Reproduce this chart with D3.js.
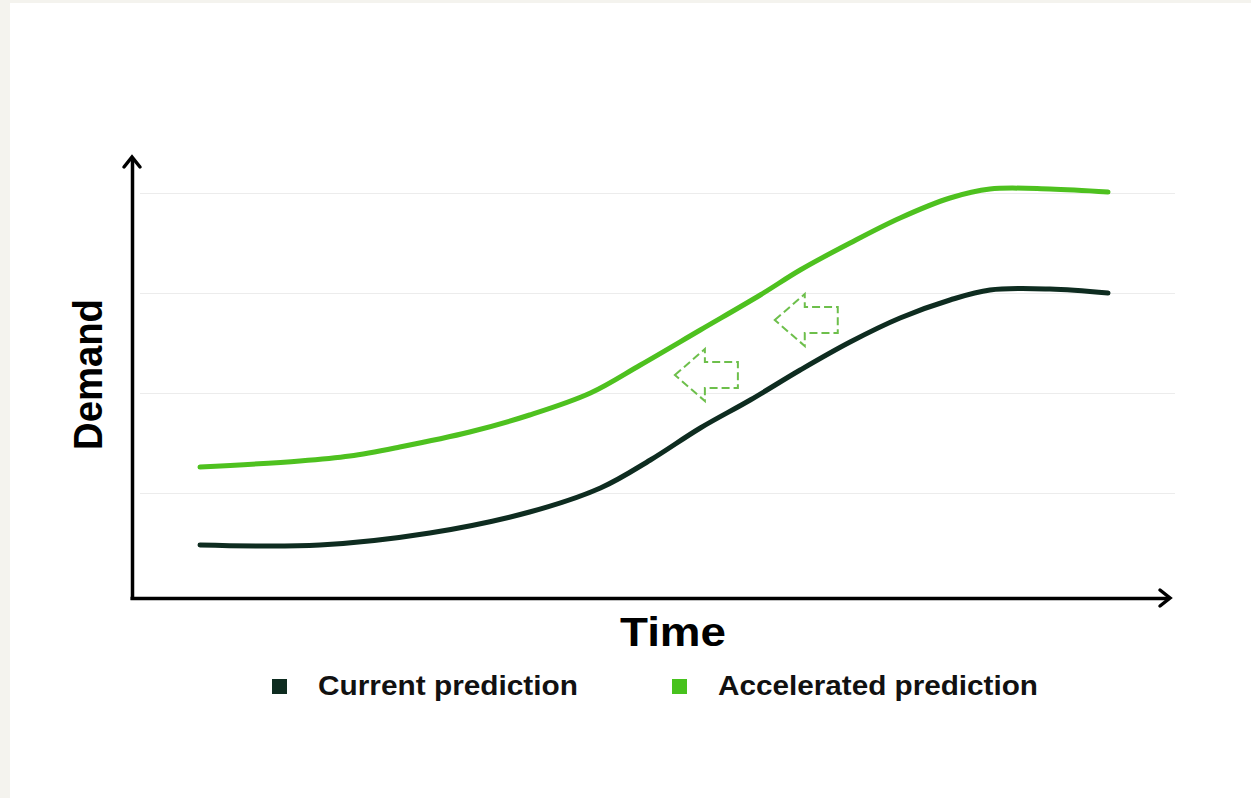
<!DOCTYPE html>
<html><head><meta charset="utf-8">
<script src="https://cdn.jsdelivr.net/npm/d3@7/dist/d3.min.js"></script>
<style>
html,body{margin:0;padding:0;background:#f4f3ee;}
svg{display:block;}
</style></head><body>
<svg id="chart" width="1251" height="798"></svg>
<script>
// ---- data ----
const currentT = [0, 13.2, 25.3, 36.3, 44.1, 49.6, 55.1, 60.6, 66.1, 71.6, 77.1, 82.6, 87.0, 93.6, 100];
const currentV = [0.48, 0.48, 0.60, 0.81, 1.05, 1.33, 1.65, 1.93, 2.23, 2.51, 2.75, 2.93, 3.03, 3.04, 3.00];
const accelT = [0, 11, 16.5, 22, 29.7, 36.3, 43, 48.5, 55.1, 61.7, 66.1, 71.6, 77.1, 82.6, 87, 93.6, 100];
const accelV = [1.26, 1.32, 1.37, 1.46, 1.61, 1.78, 2.00, 2.28, 2.63, 2.98, 3.23, 3.50, 3.75, 3.95, 4.04, 4.04, 4.01];
const gridValues = [1, 2, 3, 4];
const seriesNames = ["Current prediction", "Accelerated prediction"];
const shiftArrowT = [52.3, 63.3];   // arrow tips (time)
const shiftArrowV = [2.18, 2.73];   // arrow tips (demand)
const xTitle = "Time", yTitle = "Demand";

// ---- layout ----
const W = 1251, H = 798;
const colors = {current: "#0e2c20", accel: "#4ec11f", accelLegend: "#47c21d", arrow: "#6dbf4b"};
const svg = d3.select("#chart");
svg.append("rect").attr("x", 10).attr("y", 3).attr("width", W - 10).attr("height", H - 3).attr("fill", "#fff");

const x = d3.scaleLinear().domain([0, 100]).range([200, 1108]);
const y = d3.scaleLinear().domain([0, 4]).range([593, 193]);
const axisX0 = 132, axisX1 = 1170, axisY = 598, axisYTop = 157;

// gridlines
const grid = svg.append("g").attr("transform", `translate(1175,0)`)
  .call(d3.axisLeft(y).tickValues(gridValues).tickSize(1175 - 140).tickFormat(""));
grid.select(".domain").remove();
grid.selectAll(".tick line").attr("stroke", "#ececec").attr("stroke-width", 1.2);

// axes
const xAxisG = svg.append("g").attr("transform", `translate(0,${axisY})`)
  .call(d3.axisBottom(d3.scaleLinear().range([axisX0 - 2, axisX1 - 2])).ticks(0).tickSizeOuter(0));
xAxisG.select(".domain").attr("stroke", "#000").attr("stroke-width", 3.5);
const yAxisG = svg.append("g").attr("transform", `translate(${axisX0},0)`)
  .call(d3.axisLeft(d3.scaleLinear().range([axisY + 1.5, axisYTop + 2])).ticks(0).tickSizeOuter(0));
yAxisG.select(".domain").attr("stroke", "#000").attr("stroke-width", 3.5);
// arrow heads
svg.append("path").attr("d", `M${axisX1 - 10},${axisY - 8} L${axisX1},${axisY} L${axisX1 - 10},${axisY + 8}`)
  .attr("fill", "none").attr("stroke", "#000").attr("stroke-width", 3.5).attr("stroke-linejoin", "miter").attr("stroke-linecap", "round");
svg.append("path").attr("d", `M${axisX0 - 8},${axisYTop + 10} L${axisX0},${axisYTop} L${axisX0 + 8},${axisYTop + 10}`)
  .attr("fill", "none").attr("stroke", "#000").attr("stroke-width", 3.5).attr("stroke-linejoin", "miter").attr("stroke-linecap", "round");

// lines
const line = d3.line().x(d => x(d[0])).y(d => y(d[1])).curve(d3.curveCatmullRom.alpha(0.5));
svg.append("path").datum(currentT.map((t, i) => [t, currentV[i]]))
  .attr("d", line).attr("fill", "none").attr("stroke", colors.current).attr("stroke-width", 5).attr("stroke-linecap", "round");
svg.append("path").datum(accelT.map((t, i) => [t, accelV[i]]))
  .attr("d", line).attr("fill", "none").attr("stroke", colors.accel).attr("stroke-width", 5).attr("stroke-linecap", "round");

// dashed hollow arrows (pointing left)
shiftArrowT.forEach((t, i) => {
  const tx = x(t), ty = y(shiftArrowV[i]);
  const headL = 30, len = 63, headH = 26, shaftH = 13;
  const p = [[tx, ty], [tx + headL, ty - headH], [tx + headL, ty - shaftH], [tx + len, ty - shaftH],
             [tx + len, ty + shaftH], [tx + headL, ty + shaftH], [tx + headL, ty + headH]];
  svg.append("path").attr("d", "M" + p.map(q => q.join(",")).join("L") + "Z")
    .attr("fill", "none").attr("stroke", colors.arrow).attr("stroke-width", 2).attr("stroke-dasharray", "8,4");
});

// titles
const font = "'Liberation Sans', Arial, sans-serif";
svg.append("text").attr("x", 620).attr("y", 646)
  .attr("font-family", font).attr("font-weight", 700).attr("font-size", 40)
  .attr("textLength", 106).attr("lengthAdjust", "spacingAndGlyphs")
  .attr("fill", "#000").text(xTitle);
svg.append("text").attr("transform", "translate(102,450) rotate(-90)")
  .attr("font-family", font).attr("font-weight", 700).attr("font-size", 40)
  .attr("textLength", 151).attr("lengthAdjust", "spacingAndGlyphs")
  .attr("fill", "#000").text(yTitle);

// legend
const legendX = [272, 672];
const legendLen = [260, 320];
const legendColors = [colors.current, colors.accelLegend];
seriesNames.forEach((n, i) => {
  svg.append("rect").attr("x", legendX[i]).attr("y", 679).attr("width", 15).attr("height", 15).attr("fill", legendColors[i]);
  svg.append("text").attr("x", legendX[i] + 46).attr("y", 695)
    .attr("font-family", font).attr("font-weight", 700).attr("font-size", 27)
    .attr("textLength", legendLen[i]).attr("lengthAdjust", "spacingAndGlyphs")
    .attr("fill", "#111").text(n);
});
</script>
</body></html>
